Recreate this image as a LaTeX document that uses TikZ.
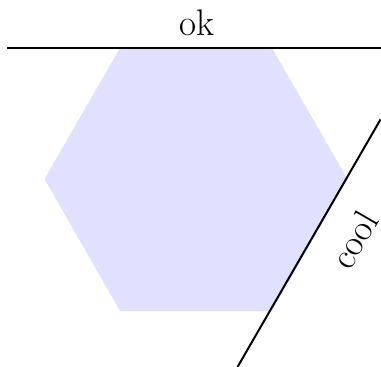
\documentclass[tikz,border=0pt]{standalone}
\usepackage{fontspec}
\begin{document}
\begin{tikzpicture}[x=1pt,y=-1pt,
  edgeline/.style={line width=2pt, black},
  lbl/.style={font=\fontsize{37}{44}\selectfont, inner sep=0pt}]
\useasboundingbox (0,0) rectangle (381,367);
\fill[blue!12] (120,48) -- (272,48) -- (347.5,179) -- (272,311) -- (120,311) -- (44.5,179) -- cycle;
\coordinate (t1) at (7,47.5);
\coordinate (t2) at (381,47.5);
\draw[edgeline] (t1) -- (t2);
\node[lbl, anchor=base] (ok) at (197,35) {ok};
\coordinate (d1) at (237.5,367);
\coordinate (d2) at (380.5,119.5);
\draw[edgeline] (d1) -- (d2);
\node[lbl, rotate=60] (cool) at (354,240) {cool};
\end{tikzpicture}
\end{document}
